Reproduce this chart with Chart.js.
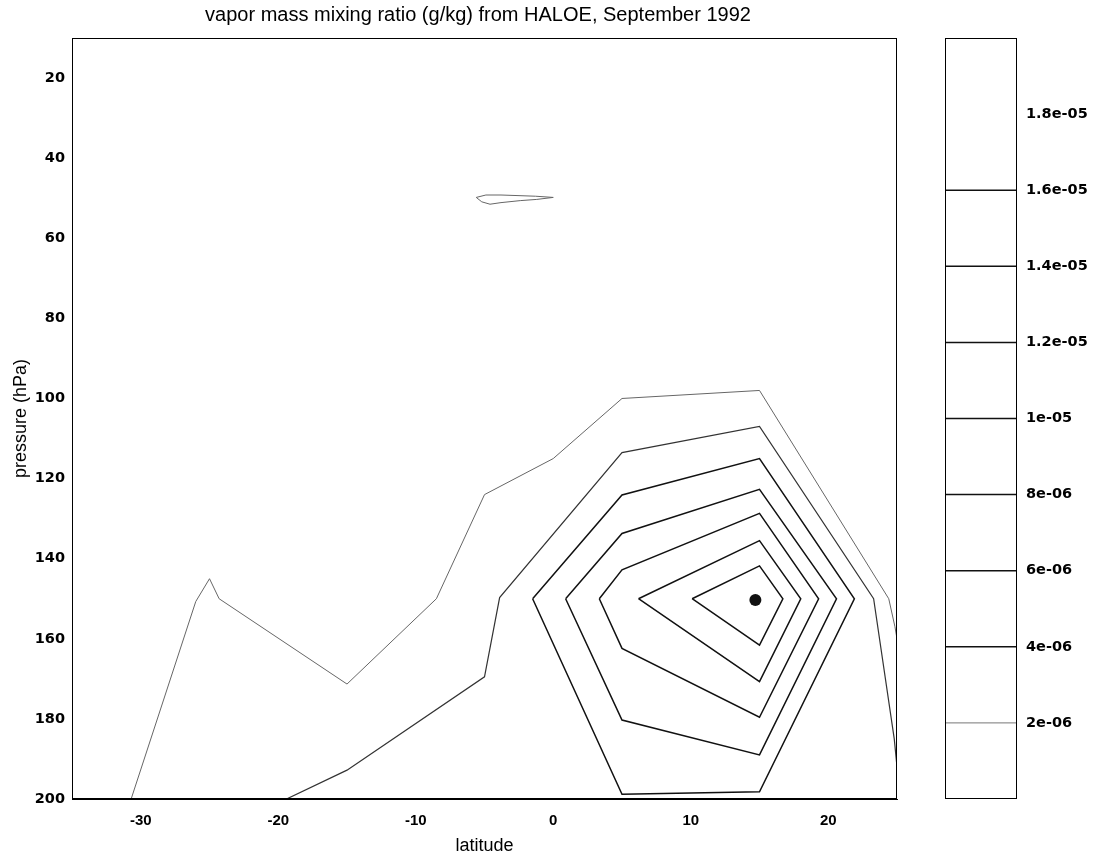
<!DOCTYPE html>
<html>
<head>
<meta charset="utf-8">
<script src="https://cdn.jsdelivr.net/npm/chart.js@4.4.1/dist/chart.umd.min.js"></script>
<style>
  html, body { margin: 0; padding: 0; background: #fff; }
  #wrap { position: relative; width: 1094px; height: 860px; }
  #main { position: absolute; left: 0; top: 0; }
  #bar { position: absolute; left: 920px; top: 0; }
</style>
</head>
<body>
<div id="wrap">
  <canvas id="main" width="1094" height="860"></canvas>
  <canvas id="bar" width="174" height="860"></canvas>
</div>
<script>
// axis ticks
const latTicks = [-30, -20, -10, 0, 10, 20];
const presTicks = [20, 40, 60, 80, 100, 120, 140, 160, 180, 200];
const levelTicks = [2e-6, 4e-6, 6e-6, 8e-6, 1e-5, 1.2e-5, 1.4e-5, 1.6e-5, 1.8e-5];
const levelLines = [2e-6, 4e-6, 6e-6, 8e-6, 1e-5, 1.2e-5, 1.4e-5, 1.6e-5];

// contour lines, [latitude, pressure] pairs
const contour2e6 = [[-30.7, 200], [-26, 150.7], [-25, 145], [-24.3, 150], [-15, 171.3], [-8.5, 150],
  [-5, 124], [0, 115], [5, 100], [15, 98], [24.4, 150], [24.85, 157], [25, 160]];
const contour2e6b = [[-5.6, 49.8], [-4.9, 49.2], [-3.8, 49.2], [-1.3, 49.5], [0, 49.8], [-1.2, 50.3],
  [-2.4, 50.6], [-3.8, 51.1], [-4.6, 51.5], [-5.2, 50.9], [-5.6, 49.8]];
const contour4e6 = [[-19.4, 200], [-15, 192.8], [-5, 169.5], [-3.9, 149.7], [5, 113.5], [15, 107],
  [23.3, 150], [24.8, 185], [25, 192]];
const contour6e6 = [[-1.5, 150], [5, 124.1], [15, 115], [21.9, 150], [15, 198.2], [5, 198.8], [-1.5, 150]];
const contour8e6 = [[0.9, 150], [5, 133.7], [15, 122.7], [20.6, 150], [15, 189], [5, 180.3], [0.9, 150]];
const contour1e5 = [[3.35, 150], [5, 142.8], [15, 128.7], [19.3, 150], [15, 179.6], [5, 162.4], [3.35, 150]];
const contour12e6 = [[6.2, 150], [15, 135.5], [18, 150], [15, 170.7], [6.2, 150]];
const contour14e6 = [[10.1, 150], [15, 141.8], [16.7, 150], [15, 161.6], [10.1, 150]];
const peak = [[14.7, 150.3]];

const toXY = pts => pts.map(([x, y]) => ({ x: x, y: y }));

function line(pts, color, width) {
  return {
    data: toXY(pts),
    showLine: true,
    borderColor: color,
    borderWidth: width,
    pointRadius: 0,
    fill: false,
    tension: 0
  };
}

const xTickFont = { family: 'Liberation Sans', size: 15, weight: 'bold' };
const yTickFont = { family: 'DejaVu Sans', size: 14.5, weight: 'bold' };
const titleFont = { family: 'Liberation Sans', size: 18 };

// box round the plot area + title text
const framePlugin = {
  id: 'frame',
  afterDraw(chart, args, opts) {
    const { ctx, chartArea: a } = chart;
    ctx.save();
    ctx.strokeStyle = '#000';
    ctx.lineWidth = 1;
    ctx.strokeRect(a.left + 0.5, a.top + 0.5, a.right - a.left - 1, a.bottom - a.top - 1);
    if (opts.text) {
      ctx.fillStyle = '#000';
      ctx.font = '20px "Liberation Sans"';
      ctx.textAlign = 'center';
      ctx.textBaseline = 'middle';
      ctx.fillText(opts.text, opts.x, opts.y);
    }
    ctx.restore();
  }
};

const mainChart = new Chart(document.getElementById('main'), {
  type: 'scatter',
  data: {
    datasets: [
      line(contour2e6, '#666', 1),
      line(contour2e6b, '#666', 1),
      line(contour4e6, '#333', 1.2),
      line(contour6e6, '#111', 1.5),
      line(contour8e6, '#111', 1.5),
      line(contour1e5, '#111', 1.5),
      line(contour12e6, '#111', 1.5),
      line(contour14e6, '#111', 1.5),
      { data: toXY(peak), pointRadius: 6, pointBackgroundColor: '#111', pointBorderWidth: 0 }
    ]
  },
  options: {
    responsive: false,
    animation: false,
    layout: { padding: { top: 38, right: 197, left: 0, bottom: 0 } },
    plugins: {
      legend: { display: false },
      tooltip: { enabled: false },
      frame: { text: 'vapor mass mixing ratio (g/kg) from HALOE, September 1992', x: 478, y: 15 }
    },
    scales: {
      x: {
        type: 'linear',
        min: -35,
        max: 25,
        grid: { display: false, drawTicks: false },
        border: { color: '#000' },
        ticks: { font: xTickFont, color: '#000', padding: 13 },
        afterBuildTicks: s => { s.ticks = latTicks.map(v => ({ value: v })); },
        afterFit: s => { s.height = 61; },
        title: { display: true, text: 'latitude', font: titleFont, color: '#000', padding: { top: 0, bottom: 3 } }
      },
      y: {
        type: 'linear',
        reverse: true,
        min: 10,
        max: 200,
        grid: { display: false, drawTicks: false },
        border: { color: '#000' },
        ticks: { font: yTickFont, color: '#000', padding: 7 },
        afterBuildTicks: s => { s.ticks = presTicks.map(v => ({ value: v })); },
        afterFit: s => { s.width = 72; },
        title: { display: true, text: 'pressure (hPa)', font: titleFont, color: '#000', padding: { top: 10, bottom: 0 } }
      }
    }
  },
  plugins: [framePlugin]
});

// colour bar: one line per contour level
function fmtLevel(v) {
  return v.toExponential().replace(/e-(\d)$/, 'e-0$1');
}

const barChart = new Chart(document.getElementById('bar'), {
  type: 'scatter',
  data: {
    datasets: levelLines.map(lev => line([[0, lev], [1, lev]], lev === 2e-6 ? '#777' : '#111', lev === 2e-6 ? 1 : 1.5))
  },
  options: {
    responsive: false,
    animation: false,
    layout: { padding: { top: 38, right: 0, left: 25, bottom: 61 } },
    plugins: {
      legend: { display: false },
      tooltip: { enabled: false },
      frame: {}
    },
    scales: {
      x: { type: 'linear', min: 0, max: 1, display: false },
      y: {
        type: 'linear',
        position: 'right',
        min: 0,
        max: 2e-5,
        grid: { display: false, drawTicks: false },
        border: { display: false },
        ticks: { font: yTickFont, color: '#000', padding: 9, callback: v => fmtLevel(v) },
        afterBuildTicks: s => { s.ticks = levelTicks.map(v => ({ value: v })); },
        afterFit: s => { s.width = 77; }
      }
    }
  },
  plugins: [framePlugin]
});
</script>
</body>
</html>
